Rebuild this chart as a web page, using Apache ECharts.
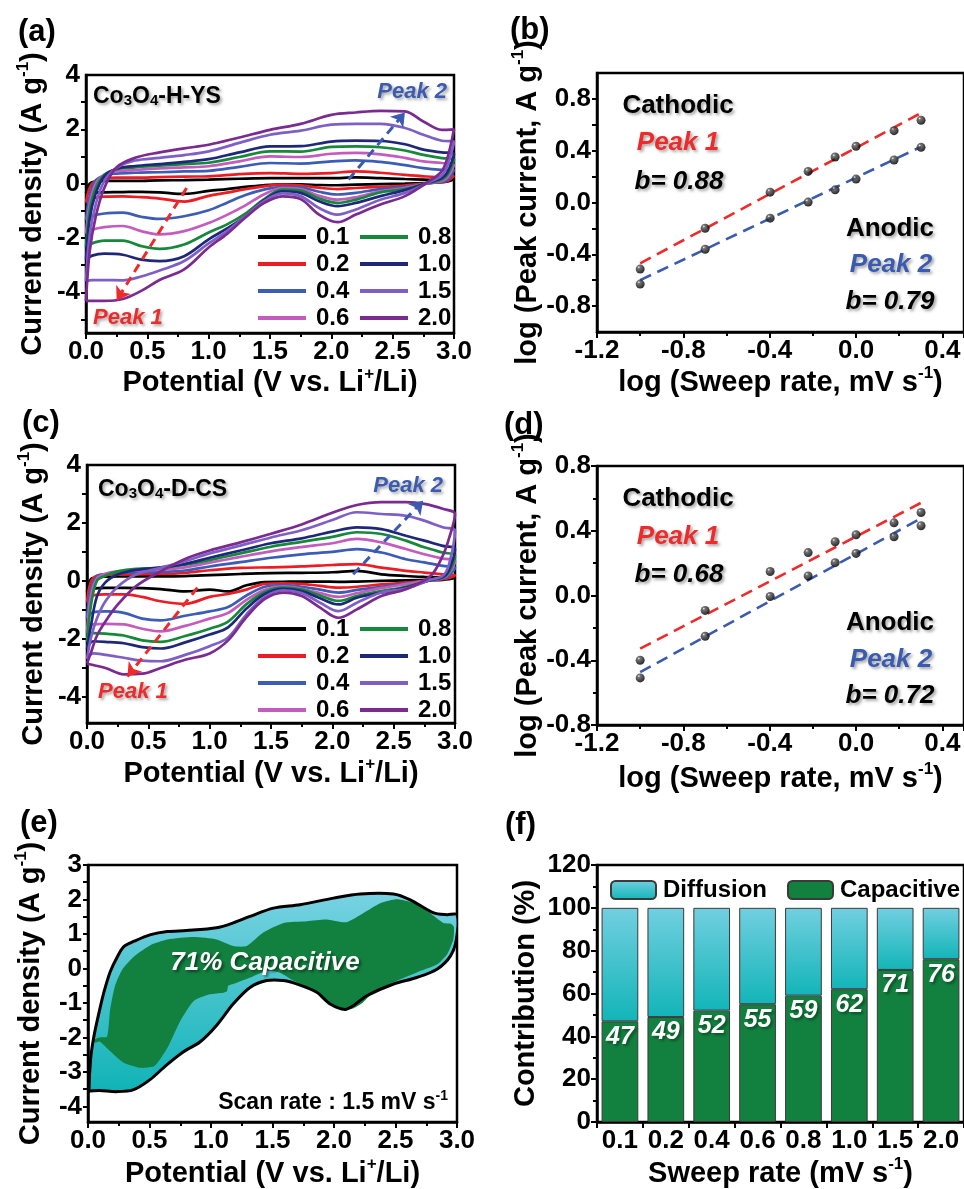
<!DOCTYPE html>
<html>
<head>
<meta charset="utf-8">
<script src="https://cdn.jsdelivr.net/npm/echarts@6.0.0/dist/echarts.min.js"></script>
<style>
  html, body { margin: 0; padding: 0; background: #fff; }
  #chart { width: 964px; height: 1189px; }
</style>
</head>
<body>
<div id="chart"></div>
<script>
const FONT = '"Liberation Sans", Arial, Helvetica, sans-serif';

// sweep rates (mV/s) and their colours
const rates = ['0.1', '0.2', '0.4', '0.6', '0.8', '1.0', '1.5', '2.0'];
const rateColors = ['#000000', '#ed1c24', '#3c5db5', '#c45cc0', '#15883a', '#1f2878', '#7e5fc6', '#7b2a8f'];

// potential grids for the anodic (0 -> 3 V) and cathodic (3 -> 0 V) branches
const upV = [0, 0.03, 0.08, 0.15, 0.25, 0.4, 0.6, 0.8, 1.0, 1.25, 1.5, 1.75, 2.0, 2.2, 2.4, 2.6, 2.75, 2.9, 3.0];
const downV = [2.95, 2.9, 2.8, 2.6, 2.4, 2.2, 2.05, 1.9, 1.75, 1.6, 1.45, 1.3, 1.15, 1.0, 0.8, 0.6, 0.45, 0.3, 0.15, 0.05];

// (a) Co3O4-H-YS, current density A/g
const aUp = [
  [-0.35, 0.0, 0.08, 0.1, 0.1, 0.1, 0.12, 0.13, 0.15, 0.18, 0.2, 0.2, 0.2, 0.23, 0.2, 0.17, 0.15, 0.13, 0.15],
  [-0.7, -0.15, 0.12, 0.2, 0.22, 0.22, 0.24, 0.26, 0.27, 0.35, 0.39, 0.36, 0.39, 0.45, 0.4, 0.32, 0.27, 0.24, 0.3],
  [-1.35, -0.45, 0.12, 0.3, 0.37, 0.4, 0.42, 0.45, 0.47, 0.62, 0.76, 0.74, 0.82, 0.86, 0.8, 0.68, 0.57, 0.51, 0.5],
  [-1.85, -0.75, 0.0, 0.33, 0.45, 0.5, 0.56, 0.6, 0.64, 0.82, 1.0, 0.98, 1.1, 1.13, 1.08, 0.95, 0.82, 0.76, 0.7],
  [-2.35, -1.0, -0.15, 0.33, 0.53, 0.6, 0.66, 0.72, 0.77, 0.98, 1.19, 1.18, 1.35, 1.37, 1.34, 1.22, 1.06, 0.94, 0.9],
  [-2.8, -1.3, -0.35, 0.28, 0.55, 0.65, 0.72, 0.8, 0.9, 1.15, 1.37, 1.38, 1.55, 1.58, 1.57, 1.45, 1.25, 1.15, 1.1],
  [-3.6, -1.9, -0.75, 0.1, 0.58, 0.85, 0.95, 1.05, 1.19, 1.5, 1.8, 1.95, 2.17, 2.2, 2.2, 2.05, 1.8, 1.58, 1.55],
  [-4.32, -2.5, -1.2, -0.15, 0.6, 0.95, 1.15, 1.3, 1.43, 1.7, 1.98, 2.2, 2.53, 2.62, 2.68, 2.66, 2.29, 1.98, 2.0]
];
const aDown = [
  [0.08, 0.05, 0.03, 0.0, -0.02, -0.04, -0.06, -0.05, -0.03, -0.03, -0.06, -0.12, -0.2, -0.27, -0.38, -0.32, -0.3, -0.31, -0.32, -0.33],
  [0.1, 0.05, 0.02, -0.07, -0.12, -0.16, -0.2, -0.15, -0.06, -0.04, -0.1, -0.2, -0.33, -0.45, -0.66, -0.55, -0.5, -0.47, -0.48, -0.55],
  [0.15, 0.07, 0.02, -0.12, -0.2, -0.34, -0.4, -0.3, -0.14, -0.12, -0.22, -0.42, -0.7, -0.98, -1.2, -1.3, -1.22, -1.07, -1.1, -1.2],
  [0.25, 0.1, 0.03, -0.16, -0.28, -0.5, -0.59, -0.45, -0.2, -0.16, -0.4, -0.8, -1.15, -1.45, -1.75, -1.87, -1.75, -1.56, -1.6, -1.7],
  [0.35, 0.15, 0.04, -0.2, -0.32, -0.59, -0.71, -0.55, -0.26, -0.22, -0.58, -1.1, -1.5, -1.8, -2.24, -2.4, -2.3, -2.1, -2.1, -2.2],
  [0.45, 0.2, 0.05, -0.24, -0.46, -0.71, -0.83, -0.65, -0.34, -0.28, -0.62, -1.2, -1.65, -2.05, -2.67, -2.85, -2.8, -2.62, -2.58, -2.65],
  [0.7, 0.3, 0.06, -0.34, -0.59, -0.95, -1.14, -0.9, -0.46, -0.36, -0.65, -1.2, -1.75, -2.2, -2.85, -3.2, -3.42, -3.56, -3.55, -3.55],
  [1.0, 0.45, 0.1, -0.46, -0.77, -1.14, -1.42, -1.14, -0.57, -0.47, -0.72, -1.25, -1.85, -2.35, -3.16, -3.55, -3.95, -4.25, -4.32, -4.32]
];

// (c) Co3O4-D-CS
const cUp = [
  [-0.4, 0.05, 0.13, 0.15, 0.16, 0.16, 0.16, 0.17, 0.2, 0.24, 0.27, 0.28, 0.3, 0.35, 0.23, 0.17, 0.14, 0.12, 0.1],
  [-0.75, -0.05, 0.18, 0.22, 0.22, 0.23, 0.24, 0.28, 0.37, 0.45, 0.47, 0.5, 0.55, 0.58, 0.46, 0.35, 0.29, 0.23, 0.2],
  [-1.3, -0.3, 0.15, 0.24, 0.28, 0.3, 0.31, 0.36, 0.5, 0.65, 0.8, 0.92, 1.0, 1.1, 0.98, 0.75, 0.64, 0.52, 0.46],
  [-1.8, -0.55, 0.08, 0.25, 0.33, 0.36, 0.39, 0.47, 0.63, 0.83, 1.02, 1.17, 1.3, 1.45, 1.33, 1.1, 0.92, 0.77, 0.69],
  [-2.1, -0.9, 0.0, 0.18, 0.33, 0.42, 0.45, 0.56, 0.72, 0.95, 1.18, 1.35, 1.52, 1.68, 1.62, 1.39, 1.16, 0.98, 0.87],
  [-2.35, -1.6, -0.55, -0.05, 0.22, 0.38, 0.47, 0.59, 0.8, 1.05, 1.3, 1.47, 1.7, 1.85, 1.79, 1.56, 1.39, 1.21, 1.1],
  [-2.7, -2.0, -1.3, -0.7, -0.2, 0.22, 0.45, 0.68, 0.95, 1.22, 1.5, 1.75, 2.1, 2.37, 2.31, 2.25, 2.08, 1.85, 1.73],
  [-2.85, -2.5, -1.9, -1.4, -0.82, -0.18, 0.33, 0.76, 1.05, 1.33, 1.63, 1.95, 2.35, 2.62, 2.72, 2.72, 2.66, 2.49, 2.31]
];
const cDown = [
  [0.06, 0.04, 0.03, 0.02, 0.0, -0.02, -0.03, -0.02, -0.02, -0.03, -0.04, -0.15, -0.36, -0.3, -0.36, -0.28, -0.25, -0.24, -0.24, -0.27],
  [0.1, 0.06, 0.03, -0.06, -0.12, -0.2, -0.23, -0.17, -0.1, -0.08, -0.1, -0.3, -0.45, -0.55, -0.79, -0.7, -0.55, -0.46, -0.46, -0.5],
  [0.18, 0.08, 0.03, -0.09, -0.2, -0.31, -0.4, -0.3, -0.2, -0.14, -0.2, -0.5, -0.9, -1.05, -1.2, -1.36, -1.3, -1.1, -1.05, -1.08],
  [0.25, 0.1, 0.03, -0.11, -0.25, -0.42, -0.55, -0.42, -0.27, -0.19, -0.3, -0.65, -1.1, -1.3, -1.55, -1.74, -1.65, -1.5, -1.48, -1.5],
  [0.3, 0.12, 0.03, -0.2, -0.35, -0.52, -0.69, -0.5, -0.3, -0.23, -0.38, -0.8, -1.4, -1.65, -1.9, -2.1, -2.05, -1.88, -1.82, -1.8],
  [0.38, 0.13, 0.03, -0.23, -0.4, -0.58, -0.81, -0.6, -0.35, -0.27, -0.45, -0.95, -1.6, -1.85, -2.12, -2.33, -2.28, -2.15, -2.1, -2.08],
  [0.55, 0.18, 0.04, -0.26, -0.4, -0.75, -1.04, -0.75, -0.42, -0.32, -0.55, -1.15, -1.95, -2.25, -2.55, -2.77, -2.75, -2.65, -2.55, -2.5],
  [1.45, 0.87, 0.17, -0.29, -0.52, -0.98, -1.27, -0.92, -0.52, -0.4, -0.62, -1.25, -2.05, -2.5, -2.72, -3.0, -3.2, -3.22, -3.0, -2.9]
];

// (b), (d) log(peak current) vs log(sweep rate)
const logRate = [-1, -0.699, -0.398, -0.222, -0.097, 0, 0.176, 0.301];
const bCath = [-0.514, -0.199, 0.08, 0.24, 0.351, 0.434, 0.555, 0.635];
const bAnod = [-0.63, -0.361, -0.121, 0.003, 0.098, 0.181, 0.328, 0.426];
const bFitCath = [[-1.0, -0.47], [0.3, 0.69]];
const bFitAnod = [[-1.0, -0.60], [0.3, 0.43]];
const dCath = [-0.4, -0.092, 0.148, 0.265, 0.332, 0.375, 0.449, 0.513];
const dAnod = [-0.509, -0.252, -0.006, 0.121, 0.203, 0.26, 0.363, 0.431];
const dFitCath = [[-1.0, -0.328], [0.3, 0.572]];
const dFitAnod = [[-1.0, -0.474], [0.3, 0.476]];

// (e) CV at 1.5 mV/s: total outline and capacitive part, [V, A/g]
const eTotal = [
  [0.008, -3.55], [0.022, -2.6], [0.049, -1.95], [0.09, -1.27], [0.13, -0.68], [0.18, -0.1], [0.24, 0.35],
  [0.293, 0.64], [0.375, 0.79], [0.51, 0.98], [0.646, 1.07], [0.8, 1.1], [1.045, 1.18], [1.18, 1.32], [1.317, 1.51],
  [1.507, 1.75], [1.724, 1.85], [1.996, 2.04], [2.213, 2.16], [2.484, 2.16], [2.62, 1.99], [2.81, 1.61],
  [2.919, 1.56], [3.0, 1.56], [2.995, 0.84], [2.946, 0.36], [2.837, -0.02], [2.674, -0.26], [2.484, -0.45],
  [2.267, -0.79], [2.159, -1.07], [2.09, -1.19], [1.969, -1.03], [1.86, -0.69], [1.724, -0.48], [1.588, -0.35],
  [1.453, -0.35], [1.317, -0.55], [1.18, -1.03], [1.045, -1.65], [0.91, -2.13], [0.774, -2.42], [0.638, -2.8],
  [0.502, -3.23], [0.367, -3.52], [0.231, -3.57], [0.095, -3.54], [0.02, -3.55]
];
const eCap = [
  [0.045, -2.08], [0.09, -2.0], [0.155, -1.97], [0.18, -1.19], [0.22, -0.5], [0.28, -0.02], [0.375, 0.35],
  [0.51, 0.68], [0.646, 0.84], [0.86, 0.91], [1.045, 0.84], [1.18, 0.65], [1.29, 0.65],
  [1.425, 1.04], [1.59, 1.32], [1.78, 1.37], [1.94, 1.42], [2.1, 1.34], [2.24, 1.61], [2.38, 1.9],
  [2.51, 2.01], [2.65, 1.9], [2.78, 1.61], [2.89, 1.32], [2.95, 1.3], [2.975, 1.2], [2.97, 0.84],
  [2.92, 0.41], [2.84, 0.12], [2.67, -0.12], [2.48, -0.4], [2.32, -0.69], [2.23, -1.0], [2.16, -1.15],
  [2.09, -1.19], [2.0, -1.07], [1.89, -0.79], [1.78, -0.55], [1.67, -0.35], [1.56, -0.12], [1.45, -0.07],
  [1.32, -0.26], [1.18, -0.45], [1.14, -0.5], [1.13, -0.66], [1.1, -0.7], [0.99, -0.75], [0.86, -0.94],
  [0.75, -1.52], [0.646, -2.3], [0.54, -2.83], [0.43, -2.88], [0.29, -2.73], [0.18, -2.4],
  [0.095, -2.12], [0.06, -2.15]
];

// (f) contribution (%)
const fRates = ['0.1', '0.2', '0.4', '0.6', '0.8', '1.0', '1.5', '2.0'];
const fCap = [47, 49, 52, 55, 59, 62, 71, 76];
const fDiff = [53, 51, 48, 45, 41, 38, 29, 24];

function loop(up, down) {
  const pts = upV.map((v, i) => [v, up[i]]);
  downV.forEach((v, i) => pts.push([v, down[i]]));
  pts.push(pts[0]);
  return pts;
}

const SHADOW = { textShadowColor: 'rgba(0,0,0,0.35)', textShadowBlur: 3, textShadowOffsetX: 2, textShadowOffsetY: 2 };

function richName(size) {
  return {
    color: '#000', fontSize: size, fontWeight: 'bold', fontFamily: FONT,
    rich: {
      t: { color: '#000', fontSize: size, fontWeight: 'bold', fontFamily: FONT, lineHeight: size + 6 },
      s: { color: '#000', fontSize: Math.round(size * 0.6), fontWeight: 'bold', fontFamily: FONT, verticalAlign: 'top', lineHeight: Math.round(size * 0.75) }
    }
  };
}

const fmt1 = v => (Math.abs(v) < 1e-9 ? '0.0' : v.toFixed(1));

function axisBase(extra) {
  return Object.assign({
    type: 'value',
    axisLine: { show: true, onZero: false, lineStyle: { color: '#000', width: 2.5 } },
    axisTick: { show: true, inside: false, length: 6, lineStyle: { color: '#000', width: 2 } },
    minorTick: { show: false },
    splitLine: { show: false },
    nameLocation: 'middle'
  }, extra);
}

function labelStyle(extra) {
  return Object.assign({ color: '#000', fontSize: 26, fontWeight: 'bold', fontFamily: FONT, margin: 6 }, extra);
}

const minor = { show: true, splitNumber: 2, length: 4, lineStyle: { color: '#000', width: 2 } };
const potName = '{t|Potential (V vs. Li}{s|+}{t|/Li)}';
const curName = '{t|Current density (A g}{s|-1}{t|)}';
const logXName = '{t|log (Sweep rate, mV s}{s|-1}{t|)}';
const logYName = '{t|log (Peak current, A g}{s|-1}{t|)}';
const NAME = 29;

const xAxes = [
  axisBase({ gridIndex: 0, min: 0, max: 3, interval: 0.5, axisLabel: labelStyle({ formatter: fmt1 }),
    minorTick: minor, name: potName, nameGap: 30, nameTextStyle: richName(NAME) }),
  axisBase({ gridIndex: 1, min: -1.2, max: 0.5, interval: 0.4, axisLabel: labelStyle({ formatter: fmt1, showMaxLabel: false }),
    minorTick: minor, name: logXName, nameGap: 33, nameTextStyle: richName(NAME) }),
  axisBase({ gridIndex: 2, min: 0, max: 3, interval: 0.5, axisLabel: labelStyle({ formatter: fmt1 }),
    minorTick: minor, name: potName, nameGap: 33, nameTextStyle: richName(NAME) }),
  axisBase({ gridIndex: 3, min: -1.2, max: 0.5, interval: 0.4, axisLabel: labelStyle({ formatter: fmt1, showMaxLabel: false }),
    minorTick: minor, name: logXName, nameGap: 36, nameTextStyle: richName(NAME) }),
  axisBase({ gridIndex: 4, min: 0, max: 3, interval: 0.5, axisLabel: labelStyle({ formatter: fmt1 }),
    minorTick: minor, name: potName, nameGap: 34, nameTextStyle: richName(NAME) }),
  axisBase({ gridIndex: 5, type: 'category', data: fRates, boundaryGap: true,
    axisTick: { show: true, inside: false, length: 6, alignWithLabel: false, lineStyle: { color: '#000', width: 2 } },
    axisLabel: labelStyle({ interval: 0 }),
    name: '{t|Sweep rate (mV s}{s|-1}{t|)}', nameGap: 34, nameTextStyle: richName(NAME) })
];

const yAxes = [
  axisBase({ gridIndex: 0, min: -5.5, max: 4,
    axisLabel: labelStyle({ customValues: [-4, -2, 0, 2, 4] }),
    axisTick: { show: true, inside: false, length: 5, lineStyle: { color: '#000', width: 2 }, customValues: [-5, -4, -3, -2, -1, 0, 1, 2, 3] },
    name: curName, nameGap: 36, nameTextStyle: richName(NAME) }),
  axisBase({ gridIndex: 1, min: -1, max: 1,
    axisLabel: labelStyle({ formatter: fmt1, customValues: [-0.8, -0.4, 0, 0.4, 0.8] }),
    axisTick: { show: true, inside: false, length: 5, lineStyle: { color: '#000', width: 2 }, customValues: [-0.8, -0.6, -0.4, -0.2, 0, 0.2, 0.4, 0.6, 0.8] },
    name: logYName, nameGap: 52, nameTextStyle: richName(NAME) }),
  axisBase({ gridIndex: 2, min: -4.9, max: 4,
    axisLabel: labelStyle({ customValues: [-4, -2, 0, 2, 4] }),
    axisTick: { show: true, inside: false, length: 5, lineStyle: { color: '#000', width: 2 }, customValues: [-4, -3, -2, -1, 0, 1, 2, 3] },
    name: curName, nameGap: 36, nameTextStyle: richName(NAME) }),
  axisBase({ gridIndex: 3, min: -0.8, max: 0.8, interval: 0.4, axisLabel: labelStyle({ formatter: fmt1 }),
    minorTick: minor, name: logYName, nameGap: 52, nameTextStyle: richName(NAME) }),
  axisBase({ gridIndex: 4, min: -4.45, max: 3,
    axisLabel: labelStyle({ customValues: [-4, -3, -2, -1, 0, 1, 2, 3] }),
    axisTick: { show: true, inside: false, length: 5, lineStyle: { color: '#000', width: 2 }, customValues: [-4, -3.5, -3, -2.5, -2, -1.5, -1, -0.5, 0, 0.5, 1, 1.5, 2, 2.5, 3] },
    name: curName, nameGap: 40, nameTextStyle: richName(NAME) }),
  axisBase({ gridIndex: 5, min: 0, max: 120, interval: 20, axisLabel: labelStyle({}),
    minorTick: minor, name: 'Contribution (%)', nameGap: 57, nameTextStyle: richName(NAME) })
];

const gridStyle = { show: true, borderColor: '#000', borderWidth: 2.5, backgroundColor: 'transparent' };
const grids = [
  Object.assign({ left: 86, top: 75, width: 368, height: 258 }, gridStyle),
  Object.assign({ left: 597, top: 73, width: 370, height: 259 }, gridStyle),
  Object.assign({ left: 87, top: 465, width: 368, height: 258 }, gridStyle),
  Object.assign({ left: 597, top: 466, width: 370, height: 259 }, gridStyle),
  Object.assign({ left: 88, top: 865, width: 369, height: 258 }, gridStyle),
  Object.assign({ left: 597, top: 865, width: 368, height: 260 }, gridStyle)
];

function cvSeries(up, down, axis) {
  return rates.map((r, k) => ({
    name: r, type: 'line', xAxisIndex: axis, yAxisIndex: axis,
    data: loop(up[k], down[k]), smooth: 0.35, symbol: 'none', showSymbol: false,
    lineStyle: { width: 2.7, color: rateColors[k] }, itemStyle: { color: rateColors[k] },
    z: 3, silent: true
  }));
}

function arrow(axis, from, to, color) {
  return {
    type: 'lines', coordinateSystem: 'cartesian2d', xAxisIndex: axis, yAxisIndex: axis,
    data: [{ coords: [from, to] }], symbol: ['none', 'arrow'], symbolSize: 13,
    lineStyle: { color, width: 3, type: [9, 6], opacity: 1 }, z: 6, silent: true
  };
}

const ball = new echarts.graphic.RadialGradient(0.35, 0.3, 0.65, [
  { offset: 0, color: '#ffffff' }, { offset: 0.22, color: '#555555' }, { offset: 1, color: '#000000' }
]);

function logSeries(axis, cath, anod, fitC, fitA) {
  const fit = (d, color) => ({
    type: 'line', xAxisIndex: axis, yAxisIndex: axis, data: d, symbol: 'none',
    lineStyle: { color, width: 2.6, type: [12, 7] }, z: 3, silent: true
  });
  const pts = vals => ({
    type: 'scatter', xAxisIndex: axis, yAxisIndex: axis, data: logRate.map((x, i) => [x, vals[i]]),
    symbolSize: 9, itemStyle: { color: ball }, z: 5, silent: true
  });
  return [fit(fitC, '#ee2a2a'), fit(fitA, '#3a5bb0'), pts(cath), pts(anod)];
}

const diffGrad = new echarts.graphic.LinearGradient(0, 0, 0, 1, [
  { offset: 0, color: '#72cfe0' }, { offset: 1, color: '#12b5b8' }
]);
const eGrad = new echarts.graphic.LinearGradient(0, 0, 0, 1, [
  { offset: 0, color: '#78d2e2' }, { offset: 1, color: '#10b3b6' }
]);
const CAP_GREEN = '#12813f';

const series = [
  ...cvSeries(aUp, aDown, 0),
  arrow(0, [0.82, -0.16], [0.25, -4.3], '#ee2a2a'),
  arrow(0, [2.14, 0.15], [2.6, 2.62], '#3a5bb0'),
  ...logSeries(1, bCath, bAnod, bFitCath, bFitAnod),
  ...cvSeries(cUp, cDown, 2),
  arrow(2, [0.9, -0.23], [0.33, -3.3], '#ee2a2a'),
  arrow(2, [2.17, 0.23], [2.74, 2.77], '#3a5bb0'),
  ...logSeries(3, dCath, dAnod, dFitCath, dFitAnod),
  {
    type: 'custom', xAxisIndex: 4, yAxisIndex: 4, data: [[0, 0]], silent: true, clip: true,
    renderItem(params, api) {
      const tot = eTotal.map(p => api.coord(p));
      const cap = eCap.map(p => api.coord(p));
      return {
        type: 'group',
        children: [
          { type: 'polygon', shape: { points: tot, smooth: 0.3 }, style: { fill: eGrad } },
          { type: 'polygon', shape: { points: cap, smooth: 0.2 }, style: { fill: CAP_GREEN } },
          { type: 'polygon', shape: { points: tot, smooth: 0.3 }, style: { fill: 'none', stroke: '#000', lineWidth: 3 } }
        ]
      };
    }
  },
  {
    name: 'Capacitive', type: 'bar', xAxisIndex: 5, yAxisIndex: 5, stack: 'f', data: fCap, barWidth: '80%',
    itemStyle: { color: CAP_GREEN, borderColor: '#3a3a3a', borderWidth: 1 },
    label: { show: true, position: 'insideTop', distance: 3, color: '#fff', fontSize: 25, fontWeight: 'bold',
      fontStyle: 'italic', fontFamily: FONT, textShadowColor: 'rgba(0,0,0,0.4)', textShadowBlur: 3, textShadowOffsetX: 2, textShadowOffsetY: 2 },
    silent: true
  },
  {
    name: 'Diffusion', type: 'bar', xAxisIndex: 5, yAxisIndex: 5, stack: 'f', data: fDiff, barWidth: '80%',
    itemStyle: { color: diffGrad, borderColor: '#3a3a3a', borderWidth: 1 }, silent: true
  }
];

const legendText = { color: '#000', fontSize: 24, fontWeight: 'bold', fontFamily: FONT, padding: [0, 0, 0, 5] };
function cvLegend(names, left, top) {
  return { data: names, left, top, orient: 'vertical', icon: 'rect', itemWidth: 48, itemHeight: 4,
    itemGap: 3, selectedMode: false, textStyle: legendText, padding: 0 };
}
const legends = [
  cvLegend(rates.slice(0, 4), 258, 225),
  cvLegend(rates.slice(4), 360, 225),
  cvLegend(rates.slice(0, 4), 258, 617),
  cvLegend(rates.slice(4), 360, 617),
  { data: ['Diffusion', 'Capacitive'], left: 610, top: 878, orient: 'horizontal', itemWidth: 45, itemHeight: 18,
    itemGap: 20, selectedMode: false, padding: 0, textStyle: Object.assign({}, legendText, { padding: [0, 0, 0, 2] }) }
];

function txt(x, y, text, o) {
  return { type: 'text', x, y, silent: true, z: 50,
    style: Object.assign({ text, fill: '#000', fontSize: 26, fontWeight: 'bold', fontFamily: FONT,
      align: 'center', verticalAlign: 'middle' }, o || {}) };
}
function formula(x, y, tail) {
  const t = { fill: '#000', color: '#000', fontSize: 23, fontWeight: 'bold', fontFamily: FONT, lineHeight: 30, verticalAlign: 'bottom' };
  const s = { fill: '#000', color: '#000', fontSize: 15, fontWeight: 'bold', fontFamily: FONT, lineHeight: 13, verticalAlign: 'bottom' };
  return txt(x, y, '{t|Co}{s|3}{t|O}{s|4}{t|' + tail + '}', Object.assign({ align: 'left', rich: { t, s } }, SHADOW));
}
const RED = '#ee2a2a', BLUE = '#3a5bb0';
const ital = (fill, size) => Object.assign({ fill, fontStyle: 'italic', fontSize: size }, SHADOW);

const graphics = [
  txt(18, 32, '(a)', { align: 'left', fontSize: 31 }),
  txt(510, 30, '(b)', { align: 'left', fontSize: 31 }),
  txt(22, 423, '(c)', { align: 'left', fontSize: 31 }),
  txt(504, 425, '(d)', { align: 'left', fontSize: 31 }),
  txt(20, 823, '(e)', { align: 'left', fontSize: 31 }),
  txt(505, 825, '(f)', { align: 'left', fontSize: 31 }),
  formula(93, 93, '-H-YS'),
  txt(93, 318, 'Peak 1', Object.assign(ital(RED, 22), { align: 'left' })),
  txt(447, 92, 'Peak 2', Object.assign(ital(BLUE, 22), { align: 'right' })),
  formula(98, 486, '-D-CS'),
  txt(98, 692, 'Peak 1', Object.assign(ital(RED, 22), { align: 'left' })),
  txt(443, 486, 'Peak 2', Object.assign(ital(BLUE, 22), { align: 'right' })),
  txt(678, 106, 'Cathodic', SHADOW),
  txt(678, 143, 'Peak 1', ital(RED, 26)),
  txt(679, 182, 'b= 0.88', ital('#000', 26)),
  txt(890, 229, 'Anodic', SHADOW),
  txt(891, 265, 'Peak 2', ital(BLUE, 26)),
  txt(890, 302, 'b= 0.79', ital('#000', 26)),
  txt(678, 499, 'Cathodic', SHADOW),
  txt(678, 537, 'Peak 1', ital(RED, 26)),
  txt(679, 575, 'b= 0.68', ital('#000', 26)),
  txt(890, 623, 'Anodic', SHADOW),
  txt(891, 660, 'Peak 2', ital(BLUE, 26)),
  txt(890, 696, 'b= 0.72', ital('#000', 26)),
  txt(265, 963, '71% Capacitive', Object.assign(ital('#fff', 26), { textShadowColor: 'rgba(0,0,0,0.5)' })),
  txt(448, 1103, '{t|Scan rate : 1.5 mV s}{s|-1}', {
    align: 'right',
    rich: {
      t: { fill: '#000', fontSize: 23, fontWeight: 'bold', fontFamily: FONT, lineHeight: 28 },
      s: { fill: '#000', fontSize: 14, fontWeight: 'bold', fontFamily: FONT, verticalAlign: 'top', lineHeight: 18 }
    }
  })
];

const chart = echarts.init(document.getElementById('chart'), null, { renderer: 'canvas', width: 964, height: 1189 });
chart.setOption({
  backgroundColor: '#fff',
  animation: false,
  grid: grids,
  xAxis: xAxes,
  yAxis: yAxes,
  legend: legends,
  series,
  graphic: graphics
});
</script>
</body>
</html>
